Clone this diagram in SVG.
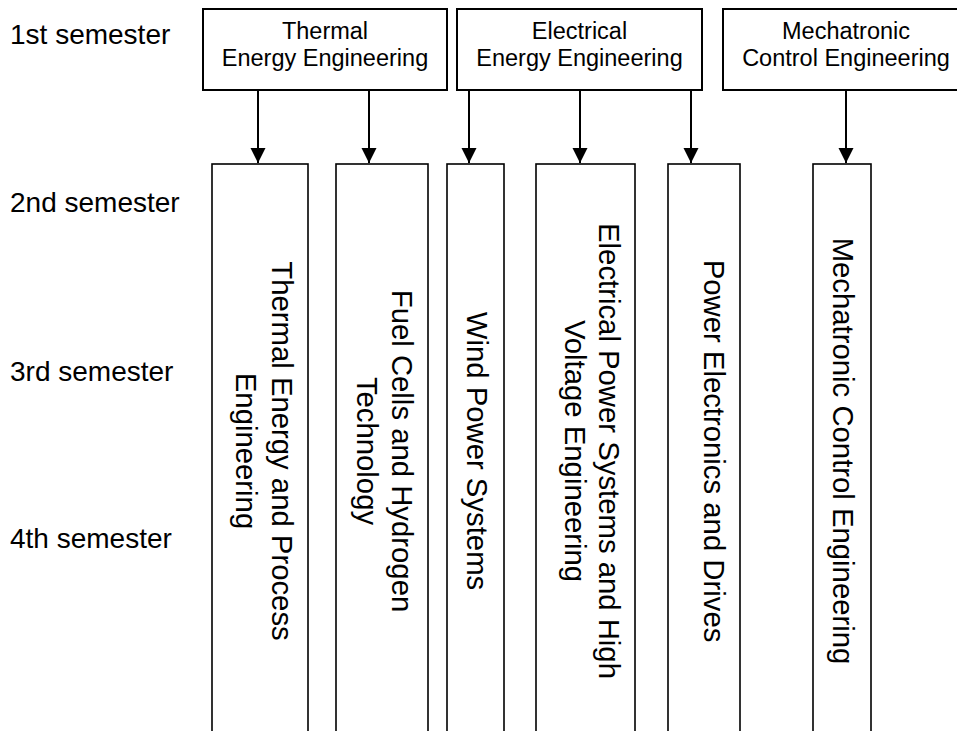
<svg xmlns="http://www.w3.org/2000/svg" width="957" height="731" viewBox="0 0 957 731">
<style>
.box{fill:#fff;stroke:#000;stroke-width:2}
.col{fill:#fff;stroke:#000;stroke-width:1.6}
.t{font-family:"Liberation Sans",Arial,sans-serif;fill:#000}
.sem{font-size:28px}
.bt{font-size:23.5px;text-anchor:middle}
.vt{font-size:29.3px;text-anchor:middle}
.edge{stroke:#000;stroke-width:2;fill:none}
</style>
<defs>
<marker id="ah" markerWidth="16" markerHeight="16" refX="15" refY="7.5" orient="auto" markerUnits="userSpaceOnUse">
<path d="M0,0 L15,7.5 L0,15 Z" fill="#000"/>
</marker>
</defs>
<rect width="957" height="731" fill="#fff"/>
<g id="semesters">
<text class="t sem" x="10" y="44">1st semester</text>
<text class="t sem" x="10" y="212">2nd semester</text>
<text class="t sem" x="10" y="381">3rd semester</text>
<text class="t sem" x="10" y="548">4th semester</text>
</g>
<g id="thermal">
<rect class="box" x="203" y="9" width="244" height="81"/>
<text class="t bt" x="325" y="39">Thermal</text>
<text class="t bt" x="325" y="66">Energy Engineering</text>
</g>
<g id="electrical">
<rect class="box" x="457" y="9" width="245" height="81"/>
<text class="t bt" x="579.5" y="39">Electrical</text>
<text class="t bt" x="579.5" y="66">Energy Engineering</text>
</g>
<g id="mechatronic">
<rect class="box" x="723" y="9" width="246" height="81"/>
<text class="t bt" x="846" y="39">Mechatronic</text>
<text class="t bt" x="846" y="66">Control Engineering</text>
</g>
<g id="col-thermal">
<rect class="col" x="212" y="164" width="96" height="600"/>
<text class="t vt" transform="translate(272,451) rotate(90)">Thermal Energy and Process</text>
<text class="t vt" transform="translate(236,451) rotate(90)">Engineering</text>
</g>
<g id="col-fuel">
<rect class="col" x="336" y="164" width="92" height="600"/>
<text class="t vt" transform="translate(392,451) rotate(90)">Fuel Cells and Hydrogen</text>
<text class="t vt" transform="translate(357,451) rotate(90)">Technology</text>
</g>
<g id="col-wind">
<rect class="col" x="447" y="164" width="57" height="600"/>
<text class="t vt" transform="translate(467,451) rotate(90)">Wind Power Systems</text>
</g>
<g id="col-power">
<rect class="col" x="536" y="164" width="99" height="600"/>
<text class="t vt" transform="translate(599,451) rotate(90)">Electrical Power Systems and High</text>
<text class="t vt" transform="translate(565,451) rotate(90)">Voltage Engineering</text>
</g>
<g id="col-drives">
<rect class="col" x="668" y="164" width="72" height="600"/>
<text class="t vt" transform="translate(704,451) rotate(90)">Power Electronics and Drives</text>
</g>
<g id="col-mech">
<rect class="col" x="813" y="164" width="58" height="600"/>
<text class="t vt" transform="translate(833,451) rotate(90)">Mechatronic Control Engineering</text>
</g>
<g id="connectors">
<line class="edge" x1="258" y1="90" x2="258" y2="163" marker-end="url(#ah)"/>
<line class="edge" x1="369" y1="90" x2="369" y2="163" marker-end="url(#ah)"/>
<line class="edge" x1="469" y1="90" x2="469" y2="163" marker-end="url(#ah)"/>
<line class="edge" x1="580" y1="90" x2="580" y2="163" marker-end="url(#ah)"/>
<line class="edge" x1="691" y1="90" x2="691" y2="163" marker-end="url(#ah)"/>
<line class="edge" x1="846" y1="90" x2="846" y2="163" marker-end="url(#ah)"/>
</g>
</svg>
